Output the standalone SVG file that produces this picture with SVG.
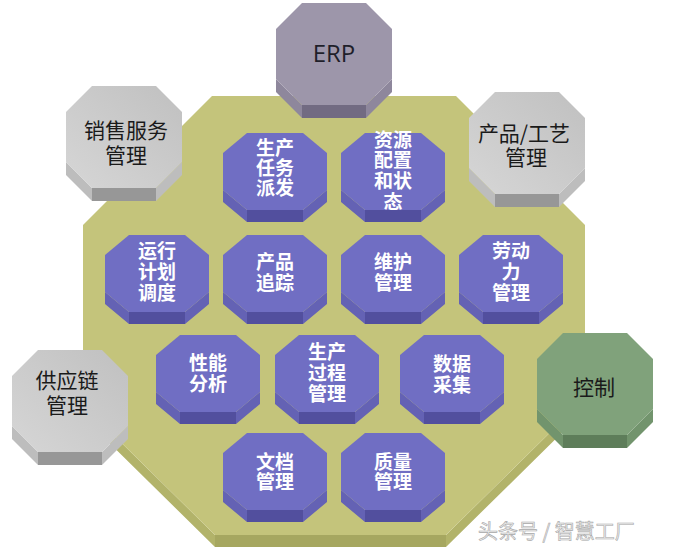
<svg xmlns="http://www.w3.org/2000/svg" width="681" height="556" viewBox="0 0 681 556">
<style>
.pt{fill:#706ec3}.ps{fill:#6462b4}.pf{fill:#524f9e}
.gt{fill:url(#gGrad)}.gs{fill:#bdbdbd}.gf{fill:#979797}
.et{fill:#9d96aa}.es{fill:#8e879c}.ef{fill:#726b82}
.ct{fill:#80a27b}.cs{fill:#72946d}.cf{fill:#5e7d5a}
.wt{font-family:"Noto Sans CJK SC","Noto Sans",sans-serif;font-size:19px;font-weight:bold;fill:#ffffff;text-anchor:middle}
.bt{font-family:"Noto Sans CJK SC","Noto Sans",sans-serif;font-size:21px;fill:#1a1a1a;text-anchor:middle}
</style>
<defs>
<linearGradient id="gGrad" x1="1" y1="0" x2="0" y2="1">
<stop offset="0" stop-color="#c0c0c0"/>
<stop offset="1" stop-color="#d6d6d6"/>
</linearGradient>
<g id="purple">
<path class="ps" d="M0,57 L24,77 H80 L104,57 V69 L80,89 H24 L0,69 Z"/>
<path class="pf" d="M24,77 H80 V89 H24 Z"/>
<path class="pt" d="M24,0 H80 L104,20 V57 L80,77 H24 L0,57 V20 Z"/>
</g>
<g id="gray">
<path class="gs" d="M0,76 L26,102 H90 L116,76 V89 L90,115 H26 L0,89 Z"/>
<path class="gf" d="M26,102 H90 V115 H26 Z"/>
<path class="gt" d="M26,0 H90 L116,26 V76 L90,102 H26 L0,76 V26 Z"/>
</g>
<g id="erpShape">
<path class="es" d="M0,76 L26,102 H90 L116,76 V89 L90,115 H26 L0,89 Z"/>
<path class="ef" d="M26,102 H90 V115 H26 Z"/>
<path class="et" d="M26,0 H90 L116,26 V76 L90,102 H26 L0,76 V26 Z"/>
</g>
<g id="greenShape">
<path class="cs" d="M0,76 L26,102 H90 L116,76 V89 L90,115 H26 L0,89 Z"/>
<path class="cf" d="M26,102 H90 V115 H26 Z"/>
<path class="ct" d="M26,0 H90 L116,26 V76 L90,102 H26 L0,76 V26 Z"/>
</g>
</defs>
<rect width="681" height="556" fill="#ffffff"/>
<g id="platform">
<path d="M83,405 L215,535 H446 L585,398 V410 L446,547 H215 L83,417 Z" fill="#b2b36a"/>
<path d="M215,535 H446 V547 H215 Z" fill="#a6a760"/>
<path d="M212,96 H456 L585,225 V398 L446,535 H215 L83,405 V225 Z" fill="#c4c47b"/>
</g>
<g id="connectors"></g>
<g id="n-erp"><use href="#erpShape" x="276" y="3"/><text x="334" y="62" style="font-family:'Open Sans','Noto Sans',sans-serif;font-size:24px;fill:#1f1f2a;text-anchor:middle">ERP</text></g>
<g id="n-sales"><use href="#gray" x="66" y="86"/><text class="bt" x="126" y="138">销售服务</text><text class="bt" x="126" y="163">管理</text></g>
<g id="n-product"><use href="#gray" x="469" y="92"/><text class="bt" x="524" y="141">产品/工艺</text><text class="bt" x="526" y="165">管理</text></g>
<g id="n-supply"><use href="#gray" x="12" y="350"/><text class="bt" x="67" y="388">供应链</text><text class="bt" x="67" y="413">管理</text></g>
<g id="n-control"><use href="#greenShape" x="537" y="333"/><text class="bt" x="594" y="395">控制</text></g>
<g id="n-dispatch"><use href="#purple" x="223" y="133"/><text class="wt" x="275" y="155">生产</text><text class="wt" x="275" y="175">任务</text><text class="wt" x="275" y="195">派发</text></g>
<g id="n-resource"><use href="#purple" x="341" y="133"/><text class="wt" x="393" y="147">资源</text><text class="wt" x="393" y="167">配置</text><text class="wt" x="393" y="188">和状</text><text class="wt" x="393" y="209">态</text></g>
<g id="n-schedule"><use href="#purple" x="105" y="235"/><text class="wt" x="157" y="258">运行</text><text class="wt" x="157" y="279">计划</text><text class="wt" x="157" y="300">调度</text></g>
<g id="n-tracking"><use href="#purple" x="223" y="235"/><text class="wt" x="275" y="269">产品</text><text class="wt" x="275" y="290">追踪</text></g>
<g id="n-maintenance"><use href="#purple" x="341" y="235"/><text class="wt" x="393" y="269">维护</text><text class="wt" x="393" y="290">管理</text></g>
<g id="n-labor"><use href="#purple" x="459" y="235"/><text class="wt" x="511" y="258">劳动</text><text class="wt" x="511" y="279">力</text><text class="wt" x="511" y="300">管理</text></g>
<g id="n-performance"><use href="#purple" x="156" y="335"/><text class="wt" x="208" y="370">性能</text><text class="wt" x="208" y="391">分析</text></g>
<g id="n-process"><use href="#purple" x="275" y="335"/><text class="wt" x="327" y="359">生产</text><text class="wt" x="327" y="380">过程</text><text class="wt" x="327" y="401">管理</text></g>
<g id="n-data"><use href="#purple" x="400" y="335"/><text class="wt" x="452" y="371">数据</text><text class="wt" x="452" y="392">采集</text></g>
<g id="n-document"><use href="#purple" x="223" y="433"/><text class="wt" x="275" y="469">文档</text><text class="wt" x="275" y="489">管理</text></g>
<g id="n-quality"><use href="#purple" x="341" y="433"/><text class="wt" x="393" y="469">质量</text><text class="wt" x="393" y="489">管理</text></g>
<text x="478" y="539" style="font-family:'Noto Sans CJK SC','Noto Sans',sans-serif;font-size:20px;fill:#eeeeee;stroke:#a8a8a8;stroke-width:0.6">头条号 / 智慧工厂</text>
</svg>
